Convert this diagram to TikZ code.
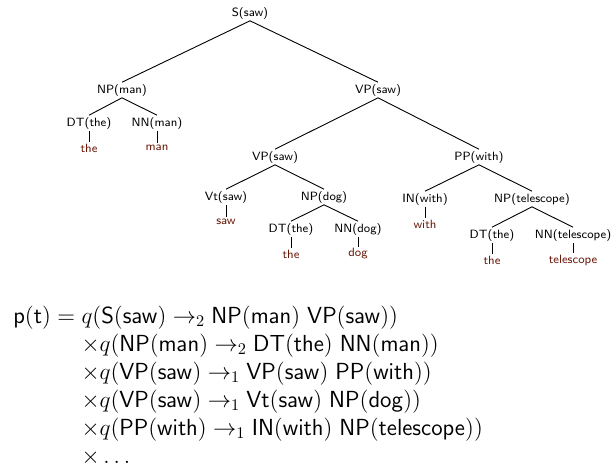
\RequirePackage{fix-cm}
\documentclass[tikz,border=0pt]{standalone}
\usepackage{amsmath,amssymb}
\usepackage{xcolor}
\usetikzlibrary{positioning}

\definecolor{leafred}{RGB}{105,25,10}

\tikzset{
  tnode/.style={font=\sffamily\footnotesize, inner sep=1pt},
  leaf/.style={tnode, text=leafred},
  branch/.style={draw=black, line width=0.6pt}
}

\begin{document}
\begin{tikzpicture}[x=0.6667pt, y=-0.6667pt]
  \useasboundingbox (0,0) rectangle (616,469);

  % Root
  \node[tnode] (s) at (250,13) {S(saw)};

  % Level 1
  \node[tnode] (npman) at (122,90) {NP(man)};
  \node[tnode] (vpsaw) at (378,90) {VP(saw)};

  % NP(man) subtree
  \node[tnode] (dtthea) at (89,123) {DT(the)};
  \node[tnode] (nnman) at (157,123) {NN(man)};
  \node[leaf] (thea) at (89,148) {the};
  \node[leaf] (man) at (157,148) {man};

  % VP(saw) subtree
  \node[tnode] (vpsawb) at (275,157) {VP(saw)};
  \node[tnode] (ppwith) at (479,157) {PP(with)};
  \node[tnode] (vtsaw) at (226,197) {Vt(saw)};
  \node[tnode] (npdog) at (324,197) {NP(dog)};
  \node[leaf] (saw) at (226,222) {saw};
  \node[tnode] (dttheb) at (291,229) {DT(the)};
  \node[tnode] (nndog) at (358,229) {NN(dog)};
  \node[leaf] (theb) at (291,254) {the};
  \node[leaf] (dog) at (358,254) {dog};

  % PP(with) subtree
  \node[tnode] (inwith) at (425,199) {IN(with)};
  \node[tnode] (nptel) at (532,199) {NP(telescope)};
  \node[leaf] (with) at (425,224) {with};
  \node[tnode] (dtthec) at (492,235) {DT(the)};
  \node[tnode] (nntel) at (573,235) {NN(telescope)};
  \node[leaf] (thec) at (492,260) {the};
  \node[leaf] (telescope) at (573,260) {telescope};

  % Branches
  \foreach \p/\c in {s/npman, s/vpsaw, npman/dtthea, npman/nnman,
      dtthea/thea, nnman/man, vpsaw/vpsawb, vpsaw/ppwith,
      vpsawb/vtsaw, vpsawb/npdog, vtsaw/saw, npdog/dttheb, npdog/nndog,
      dttheb/theb, nndog/dog, ppwith/inwith, ppwith/nptel, inwith/with,
      nptel/dtthec, nptel/nntel, dtthec/thec, nntel/telescope}
    \draw[branch] (\p.south) -- (\c.north);

  % Product of rule scores
  \node[anchor=base west, inner sep=0pt, font=\fontsize{15.5pt}{18.7pt}\selectfont] (prob) at (13,323) {%
    $\begin{array}[t]{@{}l@{}l@{}}
      \mathsf{p(t)} = {} & q(\mathsf{S(saw)} \rightarrow_2 \mathsf{NP(man)\ VP(saw)})\\
      & \times q(\mathsf{NP(man)} \rightarrow_2 \mathsf{DT(the)\ NN(man)})\\
      & \times q(\mathsf{VP(saw)} \rightarrow_1 \mathsf{VP(saw)\ PP(with)})\\
      & \times q(\mathsf{VP(saw)} \rightarrow_1 \mathsf{Vt(saw)\ NP(dog)})\\
      & \times q(\mathsf{PP(with)} \rightarrow_1 \mathsf{IN(with)\ NP(telescope)})\\
      & \times \ldots
    \end{array}$};
\end{tikzpicture}
\end{document}
